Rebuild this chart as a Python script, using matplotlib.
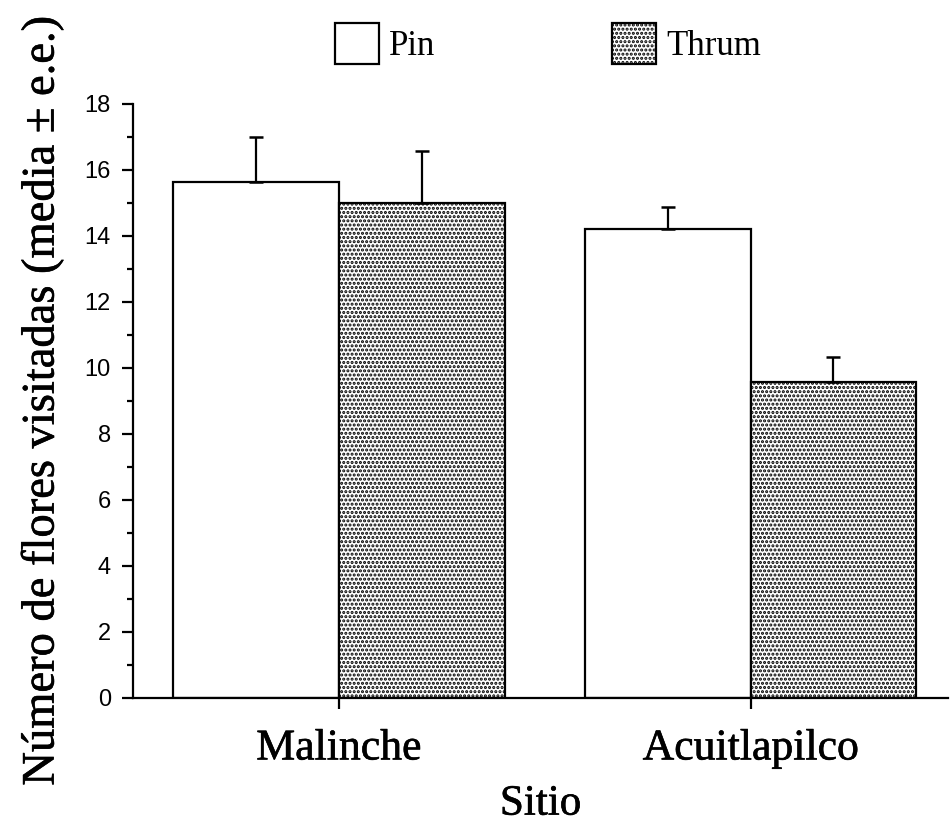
import matplotlib
matplotlib.use("Agg")
import matplotlib.pyplot as plt
import matplotlib.patheffects as pe
import numpy as np
from matplotlib.ticker import MultipleLocator

sites = ["Malinche", "Acuitlapilco"]
pin_mean = [15.65, 14.20]
pin_se = [1.36, 0.69]
thrum_mean = [14.99, 9.56]
thrum_se = [1.57, 0.76]
yticks = [0, 2, 4, 6, 8, 10, 12, 14, 16, 18]

plt.rcParams['hatch.linewidth'] = 1.5
plt.rcParams['hatch.color'] = '#1a1a1a'

heavy = [pe.withStroke(linewidth=0.45, foreground='black')]

fig = plt.figure(figsize=(9.5, 8.22), dpi=100)
ax = fig.add_axes([0.14, 0.151, 0.858, 0.7225])

x = np.arange(len(sites))
w = 0.403
b1 = ax.bar(x - w/2, pin_mean, w, color='white', edgecolor='black', linewidth=1.6,
            label='Pin', zorder=2)
b2 = ax.bar(x + w/2, thrum_mean, w, color='white', edgecolor='black', linewidth=1.6,
            hatch='....', label='Thrum', zorder=2)
ax.errorbar(x - w/2, pin_mean, yerr=[np.zeros(2), pin_se], fmt='none', ecolor='black',
            elinewidth=1.6, capsize=5, capthick=1.8, zorder=3)
ax.errorbar(x + w/2, thrum_mean, yerr=[np.zeros(2), thrum_se], fmt='none', ecolor='black',
            elinewidth=1.6, capsize=5, capthick=1.8, zorder=3)

ax.set_xlim(-0.5, 1.48)
ax.set_ylim(0, 18)
ax.set_yticks(yticks)
ax.set_yticklabels([str(v) for v in yticks], fontfamily='Liberation Sans', fontsize=17)
ax.yaxis.set_minor_locator(MultipleLocator(1))
ax.tick_params(axis='y', which='major', length=8, width=1.6, direction='out', pad=8)
ax.tick_params(axis='y', which='minor', length=4.5, width=1.6, direction='out')
ax.set_xticks(x)
ax.set_xticklabels(sites, fontfamily='Liberation Serif', fontsize=31.5)
for t in ax.get_xticklabels():
    t.set_path_effects(heavy)
ax.tick_params(axis='x', length=8, width=1.6, direction='out', pad=14)

for s in ['top', 'right']:
    ax.spines[s].set_visible(False)
for s in ['left', 'bottom']:
    ax.spines[s].set_linewidth(1.6)
ax.spines['left'].set_bounds(0, 18)

xl = ax.set_xlabel('Sitio', fontfamily='Liberation Serif', fontsize=31, labelpad=12)
xl.set_path_effects(heavy)
yl = ax.set_ylabel('Número de flores visitadas (media ± e.e.)', fontfamily='Liberation Serif',
                   fontsize=33.5, labelpad=15)
yl.set_path_effects(heavy)

leg = fig.legend(handles=[b1, b2], labels=['Pin', 'Thrum'], loc='center',
                 bbox_to_anchor=(0.577, 0.947), ncol=2, frameon=False,
                 prop={'family': 'Liberation Serif', 'size': 25},
                 handlelength=1.25, handleheight=1.45, columnspacing=5.1, handletextpad=0.3)

fig.savefig('out.png', dpi=100, facecolor='white')
